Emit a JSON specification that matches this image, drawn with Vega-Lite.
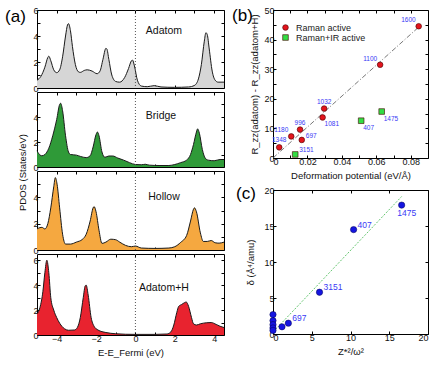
{
"$schema":"https://vega.github.io/schema/vega-lite/v6.json",
"padding":{"left":4,"top":5,"right":2,"bottom":2},
"spacing":4,
"config":{"font":"Liberation Sans","view":{"stroke":"#000","strokeWidth":1},
 "axis":{"grid":false,"domain":false,"tickColor":"#000","tickSize":-3,"labelFontSize":9,"labelColor":"#111","titleFontSize":9.5,"titleFontWeight":"normal","titleColor":"#111","labelPadding":2},
 "legend":{"rowPadding":0,"symbolStrokeWidth":0.6,"symbolStrokeColor":"#400"}},
"datasets":{
"adatom":[{"E":-5.0,"pdos":0.6},{"E":-4.8,"pdos":0.9},{"E":-4.6,"pdos":1.6},{"E":-4.45,"pdos":2.35},{"E":-4.4,"pdos":2.45},{"E":-4.3,"pdos":2.1},{"E":-4.15,"pdos":1.4},{"E":-4.0,"pdos":1.18},{"E":-3.85,"pdos":1.4},{"E":-3.7,"pdos":2.4},{"E":-3.55,"pdos":4.0},{"E":-3.45,"pdos":4.85},{"E":-3.4,"pdos":4.95},{"E":-3.3,"pdos":4.4},{"E":-3.2,"pdos":3.2},{"E":-3.05,"pdos":1.8},{"E":-2.9,"pdos":1.25},{"E":-2.8,"pdos":1.2},{"E":-2.6,"pdos":1.35},{"E":-2.45,"pdos":1.4},{"E":-2.2,"pdos":1.3},{"E":-1.95,"pdos":1.1},{"E":-1.8,"pdos":1.3},{"E":-1.65,"pdos":2.2},{"E":-1.5,"pdos":3.05},{"E":-1.45,"pdos":3.0},{"E":-1.35,"pdos":2.2},{"E":-1.2,"pdos":1.0},{"E":-1.0,"pdos":0.5},{"E":-0.8,"pdos":0.45},{"E":-0.55,"pdos":0.8},{"E":-0.35,"pdos":1.5},{"E":-0.2,"pdos":2.1},{"E":-0.15,"pdos":2.15},{"E":-0.05,"pdos":1.7},{"E":0.1,"pdos":0.6},{"E":0.3,"pdos":0.15},{"E":0.6,"pdos":0.1},{"E":0.95,"pdos":0.18},{"E":1.3,"pdos":0.08},{"E":2.0,"pdos":0.05},{"E":2.7,"pdos":0.08},{"E":3.0,"pdos":0.2},{"E":3.2,"pdos":0.7},{"E":3.35,"pdos":1.8},{"E":3.5,"pdos":3.6},{"E":3.58,"pdos":4.25},{"E":3.65,"pdos":4.1},{"E":3.75,"pdos":3.0},{"E":3.9,"pdos":1.3},{"E":4.05,"pdos":0.6},{"E":4.2,"pdos":0.45},{"E":4.5,"pdos":0.45}],
"bridge":[{"E":-5.0,"pdos":1.3},{"E":-4.9,"pdos":1.05},{"E":-4.75,"pdos":0.9},{"E":-4.6,"pdos":1.0},{"E":-4.4,"pdos":1.5},{"E":-4.2,"pdos":2.5},{"E":-4.0,"pdos":3.8},{"E":-3.85,"pdos":5.0},{"E":-3.8,"pdos":5.1},{"E":-3.7,"pdos":4.5},{"E":-3.55,"pdos":2.5},{"E":-3.4,"pdos":1.2},{"E":-3.3,"pdos":1.0},{"E":-3.0,"pdos":0.95},{"E":-2.8,"pdos":0.85},{"E":-2.5,"pdos":0.75},{"E":-2.3,"pdos":0.9},{"E":-2.15,"pdos":1.6},{"E":-2.0,"pdos":2.6},{"E":-1.93,"pdos":2.8},{"E":-1.85,"pdos":2.5},{"E":-1.7,"pdos":1.2},{"E":-1.55,"pdos":0.78},{"E":-1.35,"pdos":0.88},{"E":-1.15,"pdos":0.88},{"E":-0.9,"pdos":0.72},{"E":-0.6,"pdos":0.55},{"E":-0.3,"pdos":0.35},{"E":0.0,"pdos":0.2},{"E":0.3,"pdos":0.18},{"E":0.5,"pdos":0.22},{"E":0.7,"pdos":0.15},{"E":1.2,"pdos":0.12},{"E":1.7,"pdos":0.12},{"E":2.0,"pdos":0.2},{"E":2.3,"pdos":0.35},{"E":2.6,"pdos":0.55},{"E":2.8,"pdos":1.0},{"E":2.95,"pdos":1.8},{"E":3.1,"pdos":2.8},{"E":3.16,"pdos":3.05},{"E":3.25,"pdos":2.7},{"E":3.4,"pdos":1.4},{"E":3.55,"pdos":0.7},{"E":3.7,"pdos":0.55},{"E":4.0,"pdos":0.5},{"E":4.3,"pdos":0.6},{"E":4.5,"pdos":0.6}],
"hollow":[{"E":-5.0,"pdos":1.6},{"E":-4.85,"pdos":1.7},{"E":-4.75,"pdos":1.72},{"E":-4.6,"pdos":1.6},{"E":-4.45,"pdos":2.0},{"E":-4.3,"pdos":3.2},{"E":-4.15,"pdos":4.8},{"E":-4.07,"pdos":5.5},{"E":-3.98,"pdos":5.0},{"E":-3.85,"pdos":3.2},{"E":-3.7,"pdos":1.2},{"E":-3.55,"pdos":0.45},{"E":-3.3,"pdos":0.45},{"E":-3.0,"pdos":0.6},{"E":-2.7,"pdos":0.8},{"E":-2.5,"pdos":1.2},{"E":-2.3,"pdos":2.2},{"E":-2.15,"pdos":3.2},{"E":-2.1,"pdos":3.3},{"E":-2.0,"pdos":2.9},{"E":-1.85,"pdos":1.5},{"E":-1.7,"pdos":0.5},{"E":-1.5,"pdos":0.6},{"E":-1.25,"pdos":0.82},{"E":-1.0,"pdos":0.78},{"E":-0.8,"pdos":0.6},{"E":-0.5,"pdos":0.35},{"E":-0.2,"pdos":0.25},{"E":0.0,"pdos":0.3},{"E":0.3,"pdos":0.15},{"E":1.0,"pdos":0.12},{"E":1.7,"pdos":0.15},{"E":2.0,"pdos":0.25},{"E":2.3,"pdos":0.58},{"E":2.6,"pdos":1.1},{"E":2.8,"pdos":2.2},{"E":2.95,"pdos":3.1},{"E":3.0,"pdos":3.2},{"E":3.1,"pdos":2.9},{"E":3.3,"pdos":1.3},{"E":3.45,"pdos":0.65},{"E":3.65,"pdos":0.65},{"E":3.85,"pdos":0.72},{"E":4.05,"pdos":0.55},{"E":4.25,"pdos":0.52},{"E":4.5,"pdos":0.6}],
"adatomH":[{"E":-5.0,"pdos":1.7},{"E":-4.85,"pdos":2.2},{"E":-4.7,"pdos":3.5},{"E":-4.6,"pdos":5.0},{"E":-4.5,"pdos":6.0},{"E":-4.4,"pdos":5.0},{"E":-4.3,"pdos":3.0},{"E":-4.15,"pdos":2.0},{"E":-4.0,"pdos":1.4},{"E":-3.85,"pdos":0.95},{"E":-3.6,"pdos":0.5},{"E":-3.4,"pdos":0.38},{"E":-3.1,"pdos":0.4},{"E":-2.95,"pdos":0.6},{"E":-2.8,"pdos":1.4},{"E":-2.65,"pdos":3.0},{"E":-2.55,"pdos":3.95},{"E":-2.5,"pdos":4.0},{"E":-2.4,"pdos":3.2},{"E":-2.25,"pdos":1.4},{"E":-2.1,"pdos":0.7},{"E":-1.9,"pdos":0.4},{"E":-1.5,"pdos":0.2},{"E":-1.0,"pdos":0.1},{"E":-0.5,"pdos":0.06},{"E":0.0,"pdos":0.05},{"E":1.0,"pdos":0.05},{"E":1.6,"pdos":0.08},{"E":1.8,"pdos":0.25},{"E":1.95,"pdos":0.8},{"E":2.1,"pdos":1.8},{"E":2.2,"pdos":2.3},{"E":2.35,"pdos":2.45},{"E":2.5,"pdos":2.6},{"E":2.58,"pdos":2.65},{"E":2.7,"pdos":2.3},{"E":2.85,"pdos":1.4},{"E":2.95,"pdos":0.9},{"E":3.1,"pdos":0.8},{"E":3.3,"pdos":0.9},{"E":3.6,"pdos":0.98},{"E":3.85,"pdos":1.0},{"E":4.1,"pdos":0.85},{"E":4.3,"pdos":0.7},{"E":4.5,"pdos":0.6}],
"ramanB":[{"x":0.0036,"y":3.6,"type":"Raman active","label":"1348"},{"x":0.0106,"y":7.3,"type":"Raman active","label":"1180"},{"x":0.0157,"y":9.6,"type":"Raman active","label":"996"},{"x":0.0167,"y":6.1,"type":"Raman active","label":"697"},{"x":0.0297,"y":16.7,"type":"Raman active","label":"1032"},{"x":0.0288,"y":13.7,"type":"Raman active","label":"1081"},{"x":0.0622,"y":31.5,"type":"Raman active","label":"1100"},{"x":0.0846,"y":44.5,"type":"Raman active","label":"1600"},{"x":0.0129,"y":1.2,"type":"Raman+IR active","label":"3151"},{"x":0.0512,"y":12.6,"type":"Raman+IR active","label":"407"},{"x":0.0631,"y":15.7,"type":"Raman+IR active","label":"1475"}],
"fitB":[{"x":0,"y":0},{"x":0.0855,"y":44.7}],
"deltaC":[{"x":0,"y":2.7,"label":""},{"x":0,"y":1.86,"label":""},{"x":0,"y":1.3,"label":""},{"x":0,"y":0.84,"label":""},{"x":0,"y":0.5,"label":""},{"x":1.16,"y":1.0,"label":""},{"x":1.98,"y":1.5,"label":"697"},{"x":6.0,"y":5.8,"label":"3151"},{"x":10.4,"y":14.5,"label":"407"},{"x":16.6,"y":17.9,"label":"1475"}],
"fitC":[{"x":0.3,"y":0.6},{"x":16.6,"y":19.1}],
"one":[{}]
},
"hconcat":[
{"bounds":"flush","spacing":4,"vconcat":[
 {"width":187,"height":78,
  "resolve":{"axis":{"x":"independent","y":"independent"}},
  "layer":[
   {"data":{"name":"adatom"},"mark":{"type":"area","interpolate":"monotone","color":"#d6d6d6"},
    "encoding":{"x":{"field":"E","type":"quantitative","scale":{"domain":[-5,4.5],"nice":false,"zero":false},"axis":{"orient":"bottom","values":[-4,-3,-2,-1,0,1,2,3,4],"labels":false,"title":null}},
     "y":{"field":"pdos","type":"quantitative","scale":{"domain":[0,6],"nice":false},"axis":{"orient":"left","values":[0,1,2,3,4,5,6],"labelExpr":"datum.value % 2 == 0 ? datum.label : ''","title":null}}}},
   {"data":{"name":"adatom"},"mark":{"type":"line","interpolate":"monotone","color":"#1a1a1a","strokeWidth":1},
    "encoding":{"x":{"field":"E","type":"quantitative","axis":{"orient":"top","values":[-4,-3,-2,-1,0,1,2,3,4],"labels":false,"title":null}},
     "y":{"field":"pdos","type":"quantitative","axis":{"orient":"right","values":[0,1,2,3,4,5,6],"labels":false,"title":null}}}},
   {"data":{"name":"one"},"mark":{"type":"rule","color":"#555","strokeDash":[1,2]},"encoding":{"x":{"datum":0,"type":"quantitative","axis":null}}},
   {"data":{"name":"one"},"mark":{"type":"text","fontSize":10.5,"color":"#111"},"encoding":{"x":{"datum":1.45,"type":"quantitative","axis":null},"y":{"datum":4.4,"type":"quantitative","axis":null},"text":{"value":"Adatom"}}},
   {"data":{"name":"one"},"mark":{"type":"text","fontSize":17,"color":"#000","align":"left","baseline":"alphabetic"},"encoding":{"x":{"datum":-6.62,"type":"quantitative","axis":null},"y":{"datum":5.08,"type":"quantitative","axis":null},"text":{"value":"(a)"}}}
  ]},
 {"width":187,"height":75,
  "resolve":{"axis":{"x":"independent","y":"independent"}},
  "layer":[
   {"data":{"name":"bridge"},"mark":{"type":"area","interpolate":"monotone","color":"#2f9a38"},
    "encoding":{"x":{"field":"E","type":"quantitative","scale":{"domain":[-5,4.5],"nice":false,"zero":false},"axis":{"orient":"bottom","values":[-4,-3,-2,-1,0,1,2,3,4],"labels":false,"title":null}},
     "y":{"field":"pdos","type":"quantitative","scale":{"domain":[0,6],"nice":false},"axis":{"orient":"left","values":[0,1,2,3,4,5],"labelExpr":"datum.value % 2 == 0 ? datum.label : ''","title":null}}}},
   {"data":{"name":"bridge"},"mark":{"type":"line","interpolate":"monotone","color":"#1a1a1a","strokeWidth":1},
    "encoding":{"x":{"field":"E","type":"quantitative","axis":{"orient":"top","values":[-4,-3,-2,-1,0,1,2,3,4],"labels":false,"title":null}},
     "y":{"field":"pdos","type":"quantitative","axis":{"orient":"right","values":[0,1,2,3,4,5],"labels":false,"title":null}}}},
   {"data":{"name":"one"},"mark":{"type":"rule","color":"#555","strokeDash":[1,2]},"encoding":{"x":{"datum":0,"type":"quantitative","axis":null}}},
   {"data":{"name":"one"},"mark":{"type":"text","fontSize":10.5,"color":"#111"},"encoding":{"x":{"datum":1.3,"type":"quantitative","axis":null},"y":{"datum":4.1,"type":"quantitative","axis":null},"text":{"value":"Bridge"}}}
  ]},
 {"width":187,"height":79,
  "resolve":{"axis":{"x":"independent","y":"independent"}},
  "layer":[
   {"data":{"name":"hollow"},"mark":{"type":"area","interpolate":"monotone","color":"#f5a840"},
    "encoding":{"x":{"field":"E","type":"quantitative","scale":{"domain":[-5,4.5],"nice":false,"zero":false},"axis":{"orient":"bottom","values":[-4,-3,-2,-1,0,1,2,3,4],"labels":false,"title":null}},
     "y":{"field":"pdos","type":"quantitative","scale":{"domain":[0,6],"nice":false},"axis":{"orient":"left","values":[0,1,2,3,4,5],"labelExpr":"datum.value % 2 == 0 ? datum.label : ''","title":"PDOS (States/eV)","titleY":1,"titlePadding":5}}}},
   {"data":{"name":"hollow"},"mark":{"type":"line","interpolate":"monotone","color":"#1a1a1a","strokeWidth":1},
    "encoding":{"x":{"field":"E","type":"quantitative","axis":{"orient":"top","values":[-4,-3,-2,-1,0,1,2,3,4],"labels":false,"title":null}},
     "y":{"field":"pdos","type":"quantitative","axis":{"orient":"right","values":[0,1,2,3,4,5],"labels":false,"title":null}}}},
   {"data":{"name":"one"},"mark":{"type":"rule","color":"#555","strokeDash":[1,2]},"encoding":{"x":{"datum":0,"type":"quantitative","axis":null}}},
   {"data":{"name":"one"},"mark":{"type":"text","fontSize":10.5,"color":"#111"},"encoding":{"x":{"datum":1.45,"type":"quantitative","axis":null},"y":{"datum":4.0,"type":"quantitative","axis":null},"text":{"value":"Hollow"}}}
  ]},
 {"width":187,"height":81,
  "resolve":{"axis":{"x":"independent","y":"independent"}},
  "layer":[
   {"data":{"name":"adatomH"},"mark":{"type":"area","interpolate":"monotone","color":"#e8232f"},
    "encoding":{"x":{"field":"E","type":"quantitative","scale":{"domain":[-5,4.5],"nice":false,"zero":false},"axis":{"orient":"bottom","values":[-4,-3,-2,-1,0,1,2,3,4],"labelExpr":"datum.value % 2 == 0 ? datum.label : ''","title":"E-E_Fermi (eV)"}},
     "y":{"field":"pdos","type":"quantitative","scale":{"domain":[0,6.5],"nice":false},"axis":{"orient":"left","values":[0,1,2,3,4,5,6],"labelExpr":"datum.value % 2 == 0 ? datum.label : ''","title":null}}}},
   {"data":{"name":"adatomH"},"mark":{"type":"line","interpolate":"monotone","color":"#1a1a1a","strokeWidth":1},
    "encoding":{"x":{"field":"E","type":"quantitative","axis":{"orient":"top","values":[-4,-3,-2,-1,0,1,2,3,4],"labels":false,"title":null}},
     "y":{"field":"pdos","type":"quantitative","axis":{"orient":"right","values":[0,1,2,3,4,5,6],"labels":false,"title":null}}}},
   {"data":{"name":"one"},"mark":{"type":"rule","color":"#555","strokeDash":[1,2]},"encoding":{"x":{"datum":0,"type":"quantitative","axis":null}}},
   {"data":{"name":"one"},"mark":{"type":"text","fontSize":10.5,"color":"#111"},"encoding":{"x":{"datum":1.45,"type":"quantitative","axis":null},"y":{"datum":3.8,"type":"quantitative","axis":null},"text":{"value":"Adatom+H"}}}
  ]}
]},
{"bounds":"flush","spacing":32,"vconcat":[
 {"width":155,"height":148,
  "resolve":{"axis":{"x":"independent","y":"independent"}},
  "layer":[
   {"data":{"name":"fitB"},"mark":{"type":"line","color":"#555","strokeWidth":0.8,"strokeDash":[5,2,1,2]},
    "encoding":{"x":{"field":"x","type":"quantitative","scale":{"domain":[0,0.09],"nice":false},"axis":{"orient":"bottom","values":[0,0.01,0.02,0.03,0.04,0.05,0.06,0.07,0.08],"format":".2~f","labelExpr":"round(datum.value*100) % 2 == 0 ? datum.label : ''","title":"Deformation potential (eV/Å)"}},
     "y":{"field":"y","type":"quantitative","scale":{"domain":[0,50],"nice":false},"axis":{"orient":"left","values":[0,5,10,15,20,25,30,35,40,45,50],"labelExpr":"datum.value % 10 == 0 ? datum.label : ''","title":"R_zz(adatom) - R_zz(adatom+H)","titlePadding":4}}}},
   {"data":{"name":"ramanB"},"mark":{"type":"point","filled":true,"opacity":1,"size":32,"stroke":"#400","strokeWidth":0.6},
    "encoding":{"x":{"field":"x","type":"quantitative","axis":{"orient":"top","values":[0,0.01,0.02,0.03,0.04,0.05,0.06,0.07,0.08],"labels":false,"title":null}},
     "y":{"field":"y","type":"quantitative","axis":{"orient":"right","values":[0,5,10,15,20,25,30,35,40,45,50],"labels":false,"title":null}},
     "color":{"field":"type","type":"nominal","scale":{"domain":["Raman active","Raman+IR active"],"range":["#e3141c","#33dd44"]},"legend":{"orient":"none","legendX":244,"legendY":13,"title":null,"labelFontSize":9,"symbolSize":32,"rowPadding":0,"labelOffset":6,"padding":0,"labelColor":"#222"}},
     "shape":{"field":"type","type":"nominal","scale":{"domain":["Raman active","Raman+IR active"],"range":["circle","square"]},"legend":{"orient":"none","legendX":244,"legendY":13,"title":null,"labelFontSize":9,"symbolSize":32,"rowPadding":0,"labelOffset":6,"padding":0,"labelColor":"#222"}}}},
   {"data":{"name":"ramanB"},"transform":[{"filter":"indexof(['1348','996','1032'], datum.label) >= 0"}],"mark":{"type":"text","fontSize":6.5,"color":"#3a3af5","dy":-7,"align":"center"},
    "encoding":{"x":{"field":"x","type":"quantitative","axis":null},"y":{"field":"y","type":"quantitative","axis":null},"text":{"field":"label"}}},
   {"data":{"name":"ramanB"},"transform":[{"filter":"indexof(['1180','1100','1600'], datum.label) >= 0"}],"mark":{"type":"text","fontSize":6.5,"color":"#3a3af5","dx":-3,"dy":-6,"align":"right"},
    "encoding":{"x":{"field":"x","type":"quantitative","axis":null},"y":{"field":"y","type":"quantitative","axis":null},"text":{"field":"label"}}},
   {"data":{"name":"ramanB"},"transform":[{"filter":"indexof(['697','3151'], datum.label) >= 0"}],"mark":{"type":"text","fontSize":6.5,"color":"#3a3af5","dx":4,"dy":-4,"align":"left"},
    "encoding":{"x":{"field":"x","type":"quantitative","axis":null},"y":{"field":"y","type":"quantitative","axis":null},"text":{"field":"label"}}},
   {"data":{"name":"ramanB"},"transform":[{"filter":"indexof(['1081','407','1475'], datum.label) >= 0"}],"mark":{"type":"text","fontSize":6.5,"color":"#3a3af5","dx":2,"dy":7,"align":"left"},
    "encoding":{"x":{"field":"x","type":"quantitative","axis":null},"y":{"field":"y","type":"quantitative","axis":null},"text":{"field":"label"}}},
   {"data":{"name":"one"},"mark":{"type":"text","fontSize":17,"color":"#000","align":"left","baseline":"alphabetic"},"encoding":{"x":{"datum":-0.0238,"type":"quantitative","axis":null},"y":{"datum":46.3,"type":"quantitative","axis":null},"text":{"value":"(b)"}}}
  ]},
 {"width":155,"height":144,
  "resolve":{"axis":{"x":"independent","y":"independent"}},
  "layer":[
   {"data":{"name":"fitC"},"mark":{"type":"line","color":"#3cb64a","strokeWidth":0.8,"strokeDash":[2,1.5]},
    "encoding":{"x":{"field":"x","type":"quantitative","scale":{"domain":[0,20],"nice":false},"axis":{"orient":"bottom","values":[0,5,10,15,20],"title":"Z*²/ω²"}},
     "y":{"field":"y","type":"quantitative","scale":{"domain":[0,20],"nice":false},"axis":{"orient":"left","values":[0,5,10,15,20],"title":"δ (Å⁴/amu)","titlePadding":8}}}},
   {"data":{"name":"deltaC"},"mark":{"type":"point","filled":true,"opacity":1,"size":40,"color":"#1515e0","stroke":"#000050","strokeWidth":0.5},
    "encoding":{"x":{"field":"x","type":"quantitative","axis":{"orient":"top","values":[0,5,10,15,20],"labels":false,"title":null}},
     "y":{"field":"y","type":"quantitative","axis":{"orient":"right","values":[0,5,10,15,20],"labels":false,"title":null}}}},
   {"data":{"name":"deltaC"},"transform":[{"filter":"indexof(['697','3151','407'], datum.label) >= 0"}],"mark":{"type":"text","fontSize":8.5,"color":"#3a3af5","dx":4,"dy":-5,"align":"left"},
    "encoding":{"x":{"field":"x","type":"quantitative","axis":null},"y":{"field":"y","type":"quantitative","axis":null},"text":{"field":"label"}}},
   {"data":{"name":"deltaC"},"transform":[{"filter":"datum.label == '1475'"}],"mark":{"type":"text","fontSize":8.5,"color":"#3a3af5","dx":5,"dy":8,"align":"center"},
    "encoding":{"x":{"field":"x","type":"quantitative","axis":null},"y":{"field":"y","type":"quantitative","axis":null},"text":{"field":"label"}}},
   {"data":{"name":"one"},"mark":{"type":"text","fontSize":17,"color":"#000","align":"left","baseline":"alphabetic"},"encoding":{"x":{"datum":-4.77,"type":"quantitative","axis":null},"y":{"datum":18.75,"type":"quantitative","axis":null},"text":{"value":"(c)"}}}
  ]}
]}
]
}
